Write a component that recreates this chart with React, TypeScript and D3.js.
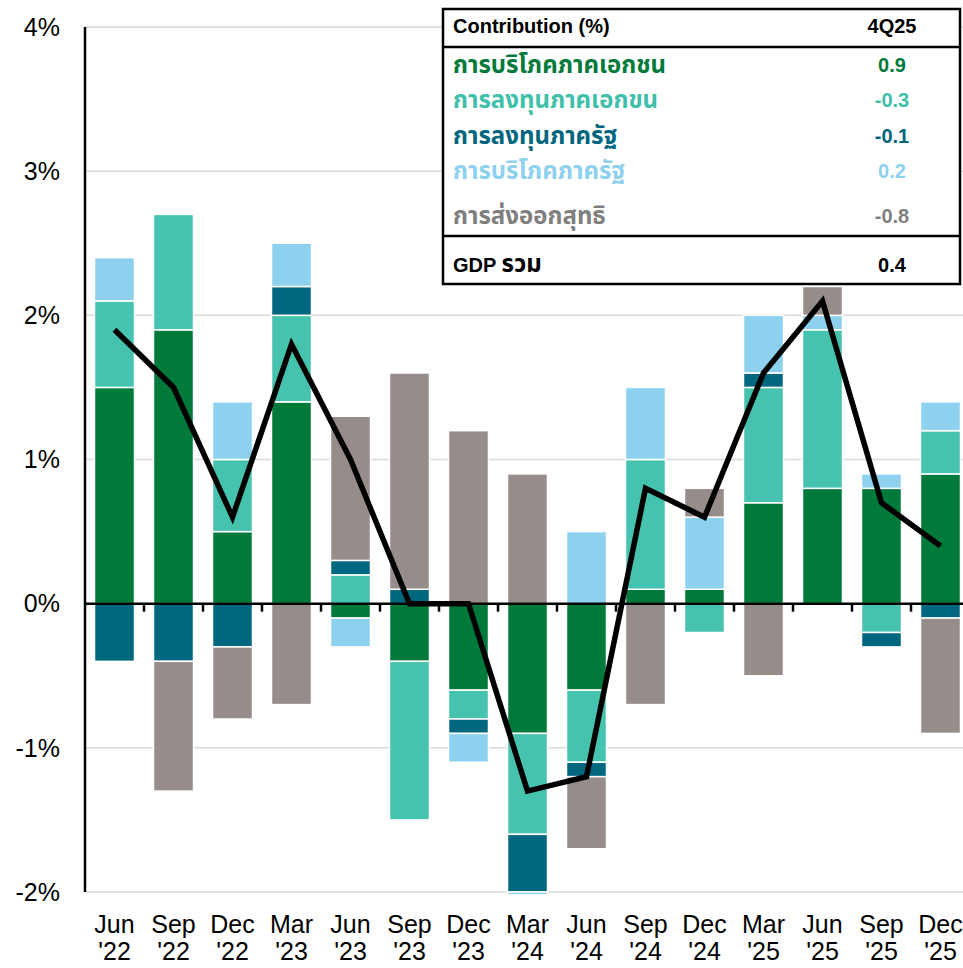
import React from "react";
import * as d3 from "d3";

const months = ["Jun", "Sep", "Dec", "Mar", "Jun", "Sep", "Dec", "Mar", "Jun", "Sep", "Dec", "Mar", "Jun", "Sep", "Dec"];
const years = ["'22", "'22", "'22", "'23", "'23", "'23", "'23", "'24", "'24", "'24", "'24", "'25", "'25", "'25", "'25"];

const privCons = [1.5, 1.9, 0.5, 1.4, -0.1, -0.4, -0.6, -0.9, -0.6, 0.1, 0.1, 0.7, 0.8, 0.8, 0.9];
const privInv = [0.6, 0.8, 0.5, 0.6, 0.2, -1.1, -0.2, -0.7, -0.5, 0.9, -0.2, 0.8, 1.1, -0.2, 0.3];
const pubInv = [-0.4, -0.4, -0.3, 0.2, 0.1, 0.1, -0.1, -0.4, -0.1, 0, 0, 0.1, 0, -0.1, -0.1];
const govCons = [0.3, 0, 0.4, 0.3, -0.2, 0, -0.2, -0.02, 0.5, 0.5, 0.5, 0.4, 0.1, 0.1, 0.2];
const netExp = [0, -0.9, -0.5, -0.7, 1.0, 1.5, 1.2, 0.9, -0.5, -0.7, 0.2, -0.5, 0.2, 0, -0.8];
const gdp = [1.9, 1.5, 0.6, 1.8, 1.0, 0.0, 0.0, -1.3, -1.2, 0.8, 0.6, 1.6, 2.1, 0.7, 0.4];

const yTicks = [4, 3, 2, 1, 0, -1, -2];
const yTickLabels = ["4%", "3%", "2%", "1%", "0%", "-1%", "-2%"];

const seriesKeys = ["privCons", "privInv", "pubInv", "govCons", "netExp"];
const seriesNames = ["การบริโภคภาคเอกชน", "การลงทุนภาคเอกขน", "การลงทุนภาครัฐ", "การบริโภคภาครัฐ", "การส่งออกสุทธิ"];
const latestValues = ["0.9", "-0.3", "-0.1", "0.2", "-0.8"];
const gdpLabelLatin = "GDP ";
const gdpLabelThai = "รวม";
const gdpLatest = "0.4";
const headerLabel = "Contribution (%)";
const headerPeriod = "4Q25";

const barColors = ["#007A3B", "#45C3AE", "#00677F", "#8ED1EE", "#968C8A"];
const textColors = ["#007A3B", "#3EC0AA", "#00667E", "#8ED1EE", "#7F7F7F"];

const W = 963;
const H = 968;
const FONT = "'Liberation Sans', Arial, 'Noto Sans Thai', 'Noto Sans', sans-serif";

export default function App() {
  const x = d3
    .scaleBand<string>()
    .domain(months.map((_, i) => String(i)))
    .range([85, 970])
    .paddingInner(0.322)
    .paddingOuter(0.161);
  const y = d3.scaleLinear().domain([-2, 4]).range([892, 27]);

  const rows = months.map((_, i) => ({
    key: String(i),
    privCons: privCons[i],
    privInv: privInv[i],
    pubInv: pubInv[i],
    govCons: govCons[i],
    netExp: netExp[i],
  }));
  const stack = d3
    .stack<any>()
    .keys(seriesKeys)
    .offset(d3.stackOffsetDiverging);
  const stacked = stack(rows);

  const line = d3
    .line<number>()
    .x((_, i) => (x(String(i)) as number) + x.bandwidth() / 2)
    .y((d) => y(d));

  const step = x.step();
  const x0 = 85;

  return (
    <svg width={W} height={H} style={{ position: "absolute", left: 0, top: 0 }} fontFamily={FONT}>
      <rect x={0} y={0} width={W} height={H} fill="#fff" />
      {yTicks.filter((t) => t !== 0).map((t) => (
        <line key={t} x1={x0} x2={W} y1={y(t)} y2={y(t)} stroke="#D9D9D9" strokeWidth={1.5} />
      ))}
      {stacked.map((s, si) => (
        <g key={s.key} fill={barColors[si]}>
          {s.map((d, i) => {
            const v = (rows[i] as any)[s.key];
            if (!v) return null;
            const top = y(Math.max(d[0], d[1]));
            const bot = y(Math.min(d[0], d[1]));
            return (
              <rect
                key={i}
                x={x(String(i))}
                y={top}
                width={x.bandwidth()}
                height={bot - top}
                stroke="#fff"
                strokeWidth={1.5}
              />
            );
          })}
        </g>
      ))}
      <line x1={x0} x2={W} y1={y(0)} y2={y(0)} stroke="#000" strokeWidth={2.5} />
      {months.map((_, i) =>
        i === 0 ? null : (
          <line key={i} x1={x0 + i * step} x2={x0 + i * step} y1={y(0)} y2={y(0) + 8} stroke="#000" strokeWidth={2.5} />
        )
      )}
      <line x1={x0} x2={x0} y1={y(4)} y2={y(-2)} stroke="#000" strokeWidth={2.5} />
      {yTicks.map((t, i) => (
        <text key={t} x={60} y={y(t)} dy="0.35em" textAnchor="end" fontSize={25} fill="#000">
          {yTickLabels[i]}
        </text>
      ))}
      {months.map((m, i) => {
        const cx = (x(String(i)) as number) + x.bandwidth() / 2;
        return (
          <g key={i}>
            <text x={cx} y={933} textAnchor="middle" fontSize={25} fill="#000">{m}</text>
            <text x={cx} y={960} textAnchor="middle" fontSize={25} fill="#000">{years[i]}</text>
          </g>
        );
      })}
      <path d={line(gdp) || ""} fill="none" stroke="#000" strokeWidth={5.5} strokeLinejoin="miter" />
      <g>
        <rect x={443} y={9} width={517} height={275} fill="#fff" stroke="#000" strokeWidth={2.5} />
        <line x1={443} x2={960} y1={47} y2={47} stroke="#000" strokeWidth={2.5} />
        <line x1={443} x2={960} y1={236} y2={236} stroke="#000" strokeWidth={2.5} />
        <text x={453} y={33} fontSize={20} fontWeight="bold" fill="#000">{headerLabel}</text>
        <text x={892} y={33} fontSize={20} fontWeight="bold" fill="#000" textAnchor="middle">{headerPeriod}</text>
        {seriesNames.map((n, i) => {
          const by = [73, 108, 144, 179, 224][i];
          return (
            <g key={n}>
              <text x={453} y={by} fontSize={24} fontWeight="bold" fill={textColors[i]}>{n}</text>
              <text x={892} y={by - 1} fontSize={20} fontWeight="bold" fill={textColors[i]} textAnchor="middle">{latestValues[i]}</text>
            </g>
          );
        })}
        <text x={453} y={272} fontWeight="bold" fill="#000">
          <tspan fontSize={20}>{gdpLabelLatin}</tspan>
          <tspan fontSize={24}>{gdpLabelThai}</tspan>
        </text>
        <text x={892} y={272} fontSize={20} fontWeight="bold" fill="#000" textAnchor="middle">{gdpLatest}</text>
      </g>
    </svg>
  );
}
